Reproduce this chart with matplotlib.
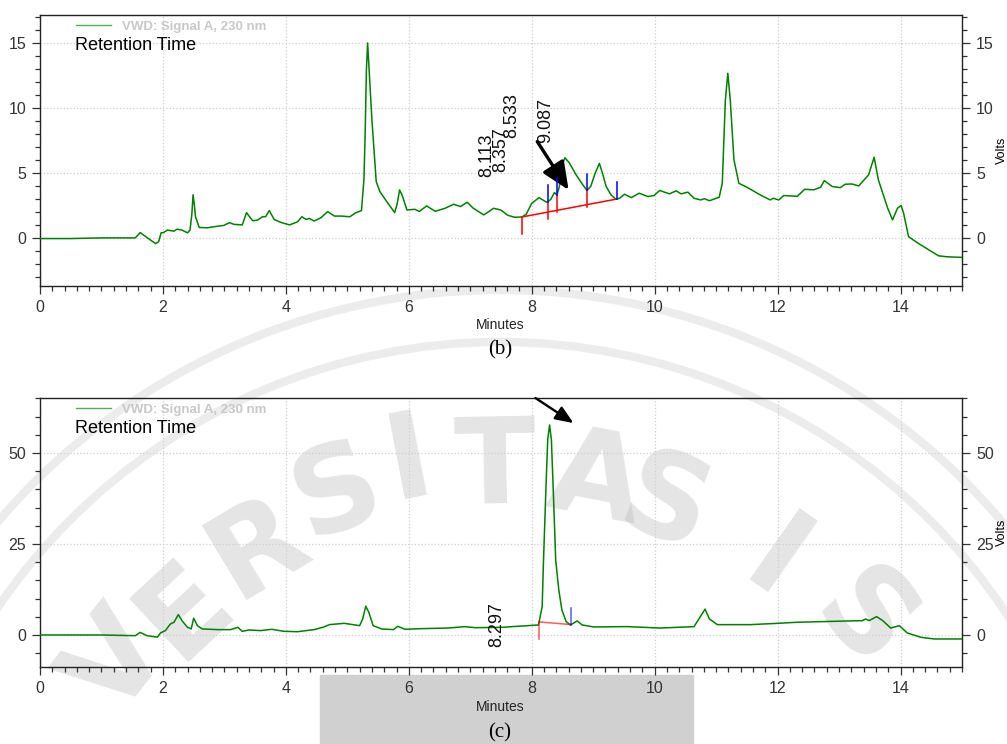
import matplotlib.pyplot as plt
import numpy as np
from matplotlib.ticker import MultipleLocator
from matplotlib.lines import Line2D
from matplotlib.patches import Rectangle, Ellipse

plt.rcParams['font.family'] = ['Liberation Sans', 'DejaVu Sans']

## panel (b): sample chromatogram
b_time = [0.0, 0.5, 1.0, 1.55, 1.63, 1.74, 1.88, 1.93, 1.97, 2.01, 2.07, 2.18, 2.23, 2.31, 2.40, 2.44,
          2.47, 2.49, 2.51, 2.53, 2.59, 2.72, 2.89, 2.99, 3.08, 3.16, 3.29, 3.36, 3.46, 3.54, 3.62, 3.67,
          3.73, 3.81, 3.92, 4.06, 4.19, 4.26, 4.33, 4.38, 4.46, 4.57, 4.68, 4.79, 4.90, 5.04, 5.14, 5.23,
          5.27, 5.29, 5.31, 5.33, 5.36, 5.40, 5.47, 5.53, 5.64, 5.77, 5.81, 5.85, 5.89, 5.97, 6.10, 6.17,
          6.29, 6.43, 6.59, 6.73, 6.84, 6.95, 7.05, 7.22, 7.38, 7.50, 7.61, 7.72, 7.84, 7.91, 8.00, 8.12,
          8.18, 8.25, 8.31, 8.37, 8.41, 8.45, 8.49, 8.54, 8.61, 8.72, 8.83, 8.90, 8.96, 9.03, 9.10, 9.15,
          9.21, 9.29, 9.37, 9.43, 9.51, 9.62, 9.75, 9.89, 9.99, 10.08, 10.24, 10.35, 10.43, 10.54, 10.64,
          10.75, 10.81, 10.89, 11.05, 11.10, 11.15, 11.19, 11.23, 11.29, 11.37, 11.48, 11.56, 11.72, 11.88,
          11.93, 12.02, 12.10, 12.32, 12.44, 12.59, 12.70, 12.76, 12.89, 13.02, 13.10, 13.21, 13.32, 13.48,
          13.57, 13.64, 13.73, 13.79, 13.87, 13.95, 14.01, 14.05, 14.13, 14.27, 14.46, 14.62, 14.75, 15.0]
b_volts = [-0.05, -0.05, 0.0, 0.0, 0.41, 0.03, -0.44, -0.30, 0.39, 0.41, 0.60, 0.52, 0.67, 0.60, 0.39, 0.60,
           1.8, 3.32, 2.6, 1.63, 0.80, 0.78, 0.90, 0.96, 1.17, 1.04, 1.00, 1.94, 1.32, 1.37, 1.63, 1.63,
           2.10, 1.42, 1.19, 1.00, 1.24, 1.63, 1.42, 1.50, 1.30, 1.55, 2.02, 1.68, 1.68, 1.63, 1.94, 2.10,
           4.5, 8.0, 12.9, 15.0, 12.5, 9.08, 4.33, 3.56, 2.80, 1.95, 2.6, 3.69, 3.30, 2.15, 2.20, 2.03,
           2.46, 2.05, 2.28, 2.59, 2.41, 2.74, 2.28, 1.77, 2.28, 2.14, 1.74, 1.59, 1.61, 1.82, 2.66, 3.10,
           2.92, 2.73, 2.97, 3.49, 3.30, 3.96, 5.52, 6.17, 5.78, 4.87, 4.09, 3.65, 3.96, 4.95, 5.73, 5.00,
           3.96, 3.31, 2.97, 3.05, 3.36, 3.10, 3.44, 3.18, 3.26, 3.65, 3.39, 3.62, 3.39, 3.52, 3.05,
           2.92, 3.02, 2.86, 3.13, 4.2, 10.6, 12.67, 10.6, 6.0, 4.2, 3.95, 3.74, 3.30, 2.92,
           3.05, 2.92, 3.26, 3.20, 3.74, 3.70, 3.90, 4.41, 3.95, 3.87, 4.13, 4.15, 4.00, 4.85,
           6.20, 4.46, 3.18, 2.30, 1.38, 2.28, 2.50, 1.90, 0.10, -0.36, -0.92, -1.38, -1.45, -1.50]
b_bounds = [7.84, 8.26, 8.41, 8.90, 9.39]
b_peak_rt = ['8.113', '8.357', '8.533', '9.087']
b_label_x = [7.27, 7.49, 7.68, 8.22]
b_label_y = [4.72, 5.1, 7.7, 7.3]
b_arrow_tail = (8.09, 7.41)
b_arrow_tip = (8.60, 3.69)

## panel (c): standard chromatogram
c_time = [0.0, 1.0, 1.55, 1.63, 1.74, 1.91, 1.96, 2.04, 2.12, 2.18, 2.25, 2.31, 2.40, 2.46, 2.50, 2.56,
          2.64, 2.89, 3.10, 3.22, 3.29, 3.40, 3.59, 3.77, 3.97, 4.19, 4.46, 4.60, 4.71, 4.95, 5.20, 5.25,
          5.30, 5.35, 5.42, 5.56, 5.75, 5.82, 5.94, 6.21, 6.64, 6.91, 7.08, 7.51, 8.11, 8.17, 8.19, 8.23,
          8.26, 8.29, 8.32, 8.36, 8.39, 8.44, 8.49, 8.56, 8.63, 8.74, 8.82, 9.01, 9.55, 10.09, 10.64,
          10.72, 10.82, 10.89, 11.02, 11.56, 12.0, 12.33, 12.92, 13.38, 13.43, 13.49, 13.61, 13.71, 13.84,
          13.98, 14.11, 14.33, 14.55, 15.0]
c_volts = [0.0, 0.0, -0.2, 0.7, -0.2, -0.6, 0.55, 1.2, 3.0, 3.5, 5.6, 3.9, 2.1, 1.65, 4.6, 2.56,
           1.65, 1.47, 1.47, 2.1, 1.0, 1.37, 1.2, 1.56, 1.0, 0.9, 1.47, 2.1, 2.84, 3.2, 2.56, 4.4,
           7.9, 6.2, 2.56, 1.65, 1.47, 2.38, 1.56, 1.74, 1.9, 2.29, 2.0, 2.1, 2.75, 7.8, 19.7, 39.8,
           53.6, 57.7, 53.6, 35.2, 20.6, 12.4, 6.9, 3.66, 2.75, 3.85, 2.75, 2.2, 2.3, 1.9, 2.29,
           4.4, 7.1, 4.4, 2.84, 2.84, 3.2, 3.5, 3.75, 3.94, 4.4, 3.94, 5.04, 3.94, 1.9,
           2.56, 0.55, -0.64, -1.1, -1.1]
c_bounds = [8.12, 8.64]
c_peak_rt = ['8.297']
c_label_x = [7.43]
c_label_y = [-3.3]
c_arrow_tail = (8.06, 65.1)
c_arrow_tip = (8.68, 58.2)

W, H = 1007, 744
fig = plt.figure(figsize=(W / 100, H / 100), dpi=100)

# faint watermark behind everything
wm_letters = ['V', 'E', 'R', 'S', 'I', 'T', 'A', 'S', 'I', 'S']
wm_x = [118, 185, 258, 337, 410, 495, 595, 665, 775, 862]
wm_y = [665, 610, 548, 493, 462, 470, 482, 507, 565, 622]
wm_rot = [52, 43, 31, 20, 11, 1, -11, -20, -35, -47]
for ch, x, y, r in zip(wm_letters, wm_x, wm_y, wm_rot):
    fig.text(x / W, 1 - y / H, ch, fontsize=86, fontweight='bold', family='DejaVu Sans',
             color='#b4b4b4', alpha=0.35, rotation=r, ha='center', va='center', zorder=-1)
for rad in [660, 608]:
    fig.add_artist(Ellipse((500 / W, 1 - 950 / H), 2 * rad / W, 2 * rad / H, transform=fig.transFigure,
                           fill=False, edgecolor='#ececec', lw=6, zorder=-2))
fig.add_artist(Rectangle((320 / W, 0), (693 - 320) / W, (744 - 675) / H, transform=fig.transFigure,
                         color='#d0d0d0', zorder=-1))


def draw_panel(ax, t, v, bounds, rts, lx, ly, tail, tip, ylim, ymaj, ymin, tick_len, mark_alpha, arrow_lw, head):
    ax.set_facecolor('none')
    ax.plot(t, v, color='#008000', lw=1.1, zorder=3)
    # integration baseline and peak boundary marks
    yb = np.interp(bounds, t, v)
    ax.plot([bounds[0], bounds[-1]], [yb[0], yb[-1]], color='red', lw=1.1, alpha=mark_alpha, zorder=4)
    for b, y0 in zip(bounds[:-1], yb[:-1]):
        ax.plot([b, b], [y0 - tick_len, y0], color='red', lw=1.1, alpha=mark_alpha, zorder=4)
    for b, y0 in zip(bounds[1:], yb[1:]):
        ax.plot([b, b], [y0, y0 + tick_len], color='blue', lw=1.1, alpha=mark_alpha, zorder=4)
    for s, x, y in zip(rts, lx, ly):
        ax.text(x, y, s, rotation=90, ha='center', va='bottom', fontsize=13, color='#111111')
    ax.annotate('', xy=tip, xytext=tail, annotation_clip=False,
                arrowprops=dict(arrowstyle='-|>,head_length=%s,head_width=%s' % head, color='black',
                                lw=arrow_lw, shrinkA=0, shrinkB=0))
    ax.set_xlim(0, 15)
    ax.set_ylim(*ylim)
    ax.xaxis.set_major_locator(MultipleLocator(2))
    ax.xaxis.set_minor_locator(MultipleLocator(0.2))
    ax.yaxis.set_major_locator(MultipleLocator(ymaj))
    ax.yaxis.set_minor_locator(MultipleLocator(ymin))
    ax.tick_params(which='both', direction='out', left=True, right=True, labelright=True,
                   colors='#333333', labelsize=11.5, width=0.9)
    ax.tick_params(which='major', length=6, pad=4)
    ax.tick_params(which='minor', length=3.5)
    ax.grid(True, which='major', color='#cfcfcf', ls=':', lw=0.9)
    for sp in ax.spines.values():
        sp.set_color('#222222')
        sp.set_linewidth(1.0)
    ax.set_ylabel('Volts', fontsize=9, labelpad=2)
    ax.yaxis.set_label_position('right')
    ax.legend(handles=[Line2D([], [], color='#4caf50', lw=1)], labels=['VWD: Signal A, 230 nm'],
              loc='center left', bbox_to_anchor=(0.039, 0.956), frameon=False, borderpad=0,
              borderaxespad=0, handlelength=2.65, handletextpad=0.85,
              prop={'weight': 'bold', 'size': 9.5}, labelcolor='#c8c8c8')
    ax.text(0.038, 0.886, 'Retention Time', transform=ax.transAxes, va='center', fontsize=13)


ax1 = fig.add_axes([40 / W, 1 - 286 / H, 922 / W, 271 / H])
draw_panel(ax1, b_time, b_volts, b_bounds, b_peak_rt, b_label_x, b_label_y, b_arrow_tail, b_arrow_tip,
           (-3.7, 17.15), 5, 1, 1.3, 1.0, 2.4, (1.7, 0.75))

ax2 = fig.add_axes([40 / W, 1 - 667 / H, 922 / W, 269 / H])
draw_panel(ax2, c_time, c_volts, c_bounds, c_peak_rt, c_label_x, c_label_y, c_arrow_tail, c_arrow_tip,
           (-8.8, 65.1), 25, 5, 4.6, 0.65, 1.7, (1.1, 0.45))

fig.text(500 / W, 1 - 325 / H, 'Minutes', ha='center', va='center', fontsize=10, color='#222222')
fig.text(500 / W, 1 - 707 / H, 'Minutes', ha='center', va='center', fontsize=10, color='#222222')
fig.text(500 / W, 1 - 350 / H, '(b)', ha='center', va='center', fontsize=15, family='Liberation Serif')
fig.text(500 / W, 1 - 733 / H, '(c)', ha='center', va='center', fontsize=15, family='Liberation Serif')

fig.savefig('out.png', dpi=100)
